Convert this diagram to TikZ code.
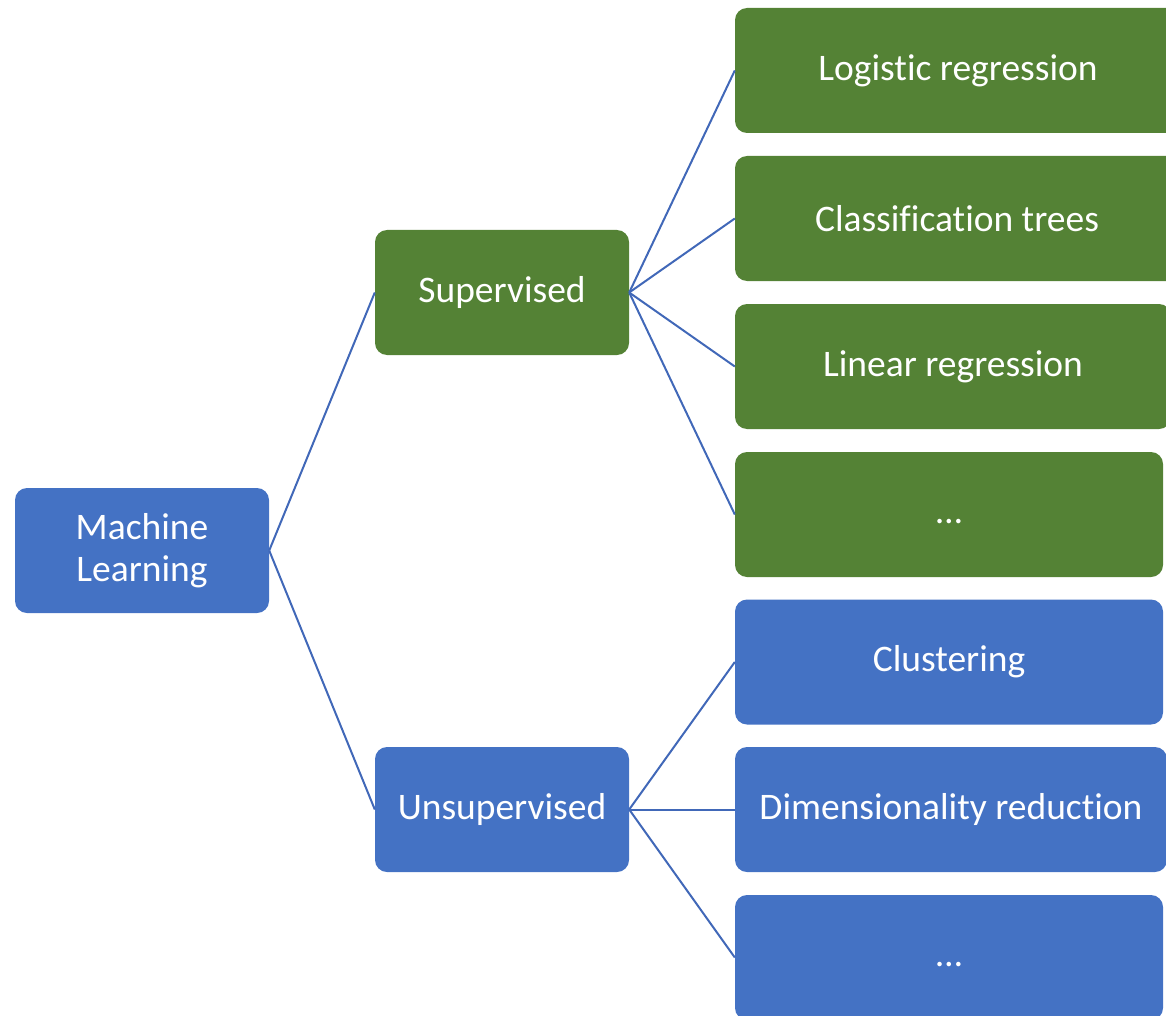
\documentclass[tikz,border=0pt]{standalone}
\usepackage{fontspec}
\setmainfont{Carlito}[Ligatures=NoCommon]
\definecolor{mlblue}{HTML}{4472C4}
\definecolor{mlgreen}{HTML}{548235}
\definecolor{linkblue}{HTML}{4168B8}
\tikzset{
  box/.style={rounded corners=12pt, text=white, inner sep=0pt, align=center,
    font=\fontsize{37.5}{42}\selectfont, minimum height=125pt},
  bluebox/.style={box, fill=mlblue},
  greenbox/.style={box, fill=mlgreen},
  link/.style={draw=linkblue, line width=2pt},
}
\begin{document}
\begin{tikzpicture}[x=1pt, y=-1pt]
\useasboundingbox (0,0) rectangle (1166,1016);
\clip (0,0) rectangle (1166,1016);
% root and first level
\node[bluebox, minimum width=254pt] (ml) at (142,550.5) {Machine\\Learning};
\node[greenbox, minimum width=254pt] (sup) at (502,292.5) {Supervised};
\node[bluebox, minimum width=254pt] (uns) at (502,809.5) {Unsupervised};
% supervised methods
\node[greenbox, minimum width=446pt] (logr) at (958,70.5) {Logistic regression};
\node[greenbox, minimum width=444pt] (ctree) at (957,218.5) {Classification trees};
\node[greenbox, minimum width=436pt] (linr) at (953,366.5) {Linear regression};
\node[greenbox, minimum width=428pt] (smore) at (949,514.5) {\vphantom{Lg}…};
% unsupervised methods
\node[bluebox, minimum width=428pt] (clus) at (949,662) {Clustering};
\node[bluebox, minimum width=432pt] (dimr) at (951,809.5) {Dimensionality reduction};
\node[bluebox, minimum width=428pt] (umore) at (949,957.5) {\vphantom{Lg}…};
% connectors
\draw[link] (ml.east) -- (sup.west);
\draw[link] (ml.east) -- (uns.west);
\foreach \c in {logr,ctree,linr,smore}
  \draw[link] (sup.east) -- (\c.west);
\foreach \c in {clus,dimr,umore}
  \draw[link] (uns.east) -- (\c.west);
\end{tikzpicture}
\end{document}
